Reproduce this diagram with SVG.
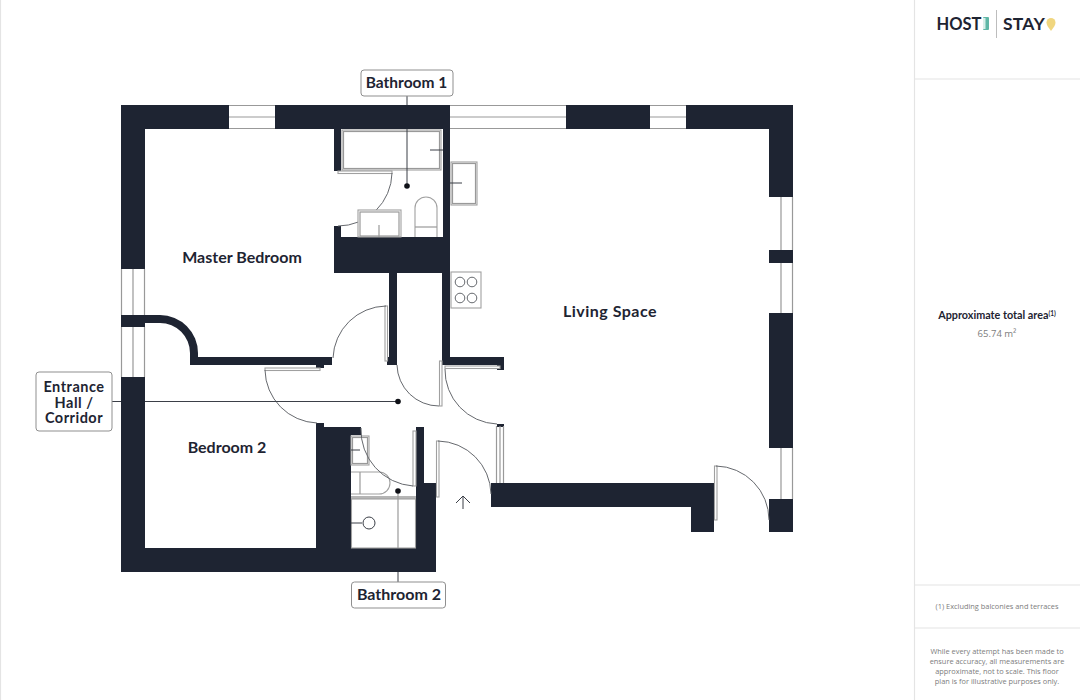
<svg xmlns="http://www.w3.org/2000/svg" width="1080" height="700" viewBox="0 0 1080 700">
<style>
.w{fill:#1e2432}
.f{fill:#fff;stroke:#a0a0a0;stroke-width:1.1}
.n{fill:none;stroke:#999;stroke-width:1.2}
.l{fill:none;stroke:#9a9a9a;stroke-width:1.2}
.a{fill:none;stroke:#66696e;stroke-width:1}
.c{fill:none;stroke:#3b3f47;stroke-width:1}
.d{fill:#0f1117}
.b{fill:#fff;stroke:#8f8f8f;stroke-width:1}
.t{font-family:"Lato","Liberation Sans",sans-serif;font-weight:700;fill:#1e2432;text-anchor:middle;font-size:16px}
.s{font-family:"Open Sans","Liberation Sans",sans-serif;fill:#7c7c7c;text-anchor:middle;font-size:7.400px}
.p{fill:none;stroke:#e4e4e4;stroke-width:1.2}
</style>
<rect width="1080" height="700" fill="#fff"/>
<g id="sheet">
<path class="p" d="M0.500 0V700M914.500 0V700M915 79H1080M915 585H1080M915 628H1080"/>
</g>
<g id="walls">
<rect class="w" x="121" y="105" width="24" height="467"/>
<rect class="w" x="121" y="105" width="672" height="24"/>
<rect class="w" x="769" y="105" width="24" height="427"/>
<rect class="w" x="121" y="548" width="315" height="24"/>
<rect class="w" x="334" y="129" width="7" height="42"/>
<rect class="w" x="443" y="129" width="7" height="228"/>
<rect class="w" x="334" y="237" width="116" height="36"/>
<rect class="w" x="334" y="226" width="7" height="11"/>
<rect class="w" x="389" y="273" width="8" height="92"/>
<rect class="w" x="387" y="357" width="10" height="8"/>
<rect class="w" x="442" y="273" width="8" height="92"/>
<rect class="w" x="442" y="357" width="62" height="8"/>
<rect class="w" x="497" y="365" width="7" height="5"/>
<rect class="w" x="316" y="427" width="35" height="121"/>
<rect class="w" x="316" y="423" width="8" height="4"/>
<rect class="w" x="351" y="427" width="10" height="8"/>
<rect class="w" x="416" y="427" width="8" height="56"/>
<rect class="w" x="416" y="483" width="20" height="89"/>
<path class="w" d="M145 315H160A38 38 0 0 1 198 353V357H332V365H324V368H316V365H190V353A30 30 0 0 0 160 323H145Z"/>
<path class="w" d="M491 483H714V532H691V507H491Z"/>
<path class="w" d="M497 424H504V427H497Z"/>
</g>
<g id="windows">
<g id="window-top-1"><rect fill="#fff" x="229" y="105" width="46" height="24"/><path class="n" d="M229 105.500H275M229 117H275M229 128.500H275"/></g>
<g id="window-top-2"><rect fill="#fff" x="450" y="105" width="116" height="24"/><path class="n" d="M450 105.500H566M450 117H566M450 128.500H566"/></g>
<g id="window-top-3"><rect fill="#fff" x="650" y="105" width="36" height="24"/><path class="n" d="M650 105.500H686M650 117H686M650 128.500H686"/></g>
<g id="window-right-1"><rect fill="#fff" x="769" y="197" width="24" height="53"/><path class="n" d="M781 197V250M792.500 197V250"/></g>
<g id="window-right-2"><rect fill="#fff" x="769" y="263" width="24" height="50"/><path class="n" d="M781 263V313M792.500 263V313"/></g>
<g id="window-right-3"><rect fill="#fff" x="769" y="448" width="24" height="51"/><path class="n" d="M781 448V499M792.500 448V499"/></g>
<g id="window-left-1"><rect fill="#fff" x="121" y="269" width="24" height="46"/><path class="n" d="M121.500 269V315M133 269V315M144.500 269V315"/></g>
<g id="window-left-2"><rect fill="#fff" x="121" y="327" width="24" height="50"/><path class="n" d="M121.500 327V377M133 327V377M144.500 327V377"/></g>
<g id="window-hall"><path class="n" d="M496.500 426V483M500 426V483M503.500 426V483"/></g>
</g>
<g id="doors">
<rect class="f" x="338" y="171" width="54" height="2.500"/><path class="a" d="M392 173A54 54 0 0 1 338 226"/>
<rect class="f" x="385" y="306" width="2.500" height="55"/><path class="a" d="M386 306A54 54 0 0 0 333 358"/>
<rect class="f" x="265" y="368" width="55" height="2.500"/><path class="a" d="M265 370A54 54 0 0 0 317 423"/>
<rect class="f" x="439.500" y="361" width="2.500" height="45"/><path class="a" d="M397 365A42 42 0 0 0 439 406"/>
<rect class="f" x="445" y="366" width="55" height="2.500"/><path class="a" d="M445 369A54 54 0 0 0 497 424"/>
<rect class="f" x="436.500" y="441" width="2.500" height="56"/><path class="a" d="M438 441A54 54 0 0 1 491 494"/>
<rect class="f" x="714.500" y="466" width="2.500" height="54"/><path class="a" d="M716 466A54 54 0 0 1 769 520"/>
<rect class="f" x="413" y="431" width="3" height="55"/>
</g>
<g id="fixtures">
<g id="bath"><rect class="f" x="342" y="130" width="99" height="40"/><rect class="n" x="343.500" y="131.500" width="96" height="37"/><path class="c" d="M430 150H443"/></g>
<g id="sink-1"><rect class="f" x="358" y="210" width="43" height="27"/><rect class="n" x="360" y="212" width="39" height="24"/><path class="l" d="M379 225V237"/></g>
<g id="toilet-1"><path class="f" d="M415 237V208A11 11 0 0 1 437 208V237"/><path class="l" d="M415 227H437"/></g>
<g id="kitchen-sink"><rect class="f" x="451" y="162" width="26" height="43"/><rect class="n" x="452.500" y="163.500" width="23" height="40"/><path class="c" d="M450 183H462"/></g>
<g id="hob"><rect class="f" x="451" y="272" width="30" height="36"/><circle class="a" cx="460" cy="282" r="4.800"/><circle class="a" cx="472" cy="282" r="4.800"/><circle class="a" cx="460" cy="298" r="4.800"/><circle class="a" cx="472" cy="298" r="4.800"/></g>
<g id="sink-2"><rect class="f" x="351" y="436" width="18" height="29"/><rect class="n" x="352.500" y="437.500" width="15" height="26"/><path class="c" d="M351 450H360"/></g>
<g id="toilet-2"><path class="f" d="M351 472H379A11 11 0 0 1 379 494H351"/><path class="l" d="M360 472V494"/></g>
<g id="shower"><rect fill="#b5b5b5" x="351" y="496" width="65" height="3"/><rect class="f" x="351.500" y="499" width="64" height="49"/><circle class="c" cx="369" cy="523" r="6"/><path class="c" d="M351 523H362"/></g>
<path class="a" d="M361 428A56 56 0 0 0 413 486"/>
<g id="entry-arrow"><path class="c" d="M463 509V497M456 503L463 496L470 503"/></g>
</g>
<g id="connectors">
<path class="c" d="M407 96V105M407 129V186"/>
<path class="c" d="M112 401.500H121M145 401.500H398"/>
<path class="l" d="M398 491V548"/>
<path class="c" d="M398 572V582"/>
<circle class="d" cx="407" cy="186" r="2.800"/>
<circle class="d" cx="398" cy="401.500" r="2.800"/>
<circle class="d" cx="398" cy="491" r="2.800"/>
</g>
<g id="bathroom-1"><rect class="b" x="361" y="70" width="92" height="26" rx="3"/><text class="t" x="406.500" y="88" style="font-size:15.500px">Bathroom 1</text></g>
<g id="bathroom-2"><rect class="b" x="351.500" y="582" width="94" height="26" rx="3"/><text class="t" x="399" y="600">Bathroom 2</text></g>
<g id="entrance-hall"><rect class="b" x="36" y="372" width="76" height="59" rx="3"/><text class="t" x="74" y="391.500" style="font-size:14.500px" letter-spacing="0.500">Entrance</text><text class="t" x="74" y="407.500" style="font-size:14.500px" letter-spacing="0.500">Hall /</text><text class="t" x="74" y="423" style="font-size:14.500px" letter-spacing="0.500">Corridor</text></g>
<g id="master-bedroom"><text class="t" x="242" y="263">Master Bedroom</text></g>
<g id="bedroom-2"><text class="t" x="227" y="453">Bedroom 2</text></g>
<g id="living-space"><text class="t" x="610" y="317" letter-spacing="0.500">Living Space</text></g>
<g id="logo">
<text class="t" x="959" y="29.500" style="font-size:16.500px">HOST</text>
<rect x="983" y="17" width="6" height="13" rx="1" fill="#5fb7a6"/><rect x="983" y="18" width="2.500" height="11" fill="#d8efe9"/>
<path d="M996.500 10V38" stroke="#bdbdbd" stroke-width="1"/>
<text class="t" x="1024" y="29.500" style="font-size:17.500px" letter-spacing="0.300">STAY</text>
<path d="M1051 31C1048 27 1046.500 25 1046.500 22.500A4.500 4.500 0 0 1 1055.500 22.500C1055.500 25 1054 27 1051 31Z" fill="#f0d67f"/>
</g>
<g id="area">
<text class="t" x="997" y="319" style="font-size:10.800px">Approximate total area<tspan style="font-size:6.500px" dy="-3.500">(1)</tspan></text>
<text class="s" x="997" y="337" style="font-size:9.500px">65.74 m²</text>
</g>
<g id="notes">
<text class="s" x="997" y="609">(1) Excluding balconies and terraces</text>
<text class="s" x="997" y="654">While every attempt has been made to</text>
<text class="s" x="997" y="664">ensure accuracy, all measurements are</text>
<text class="s" x="997" y="674">approximate, not to scale. This floor</text>
<text class="s" x="997" y="684">plan is for illustrative purposes only.</text>
</g>
</svg>
